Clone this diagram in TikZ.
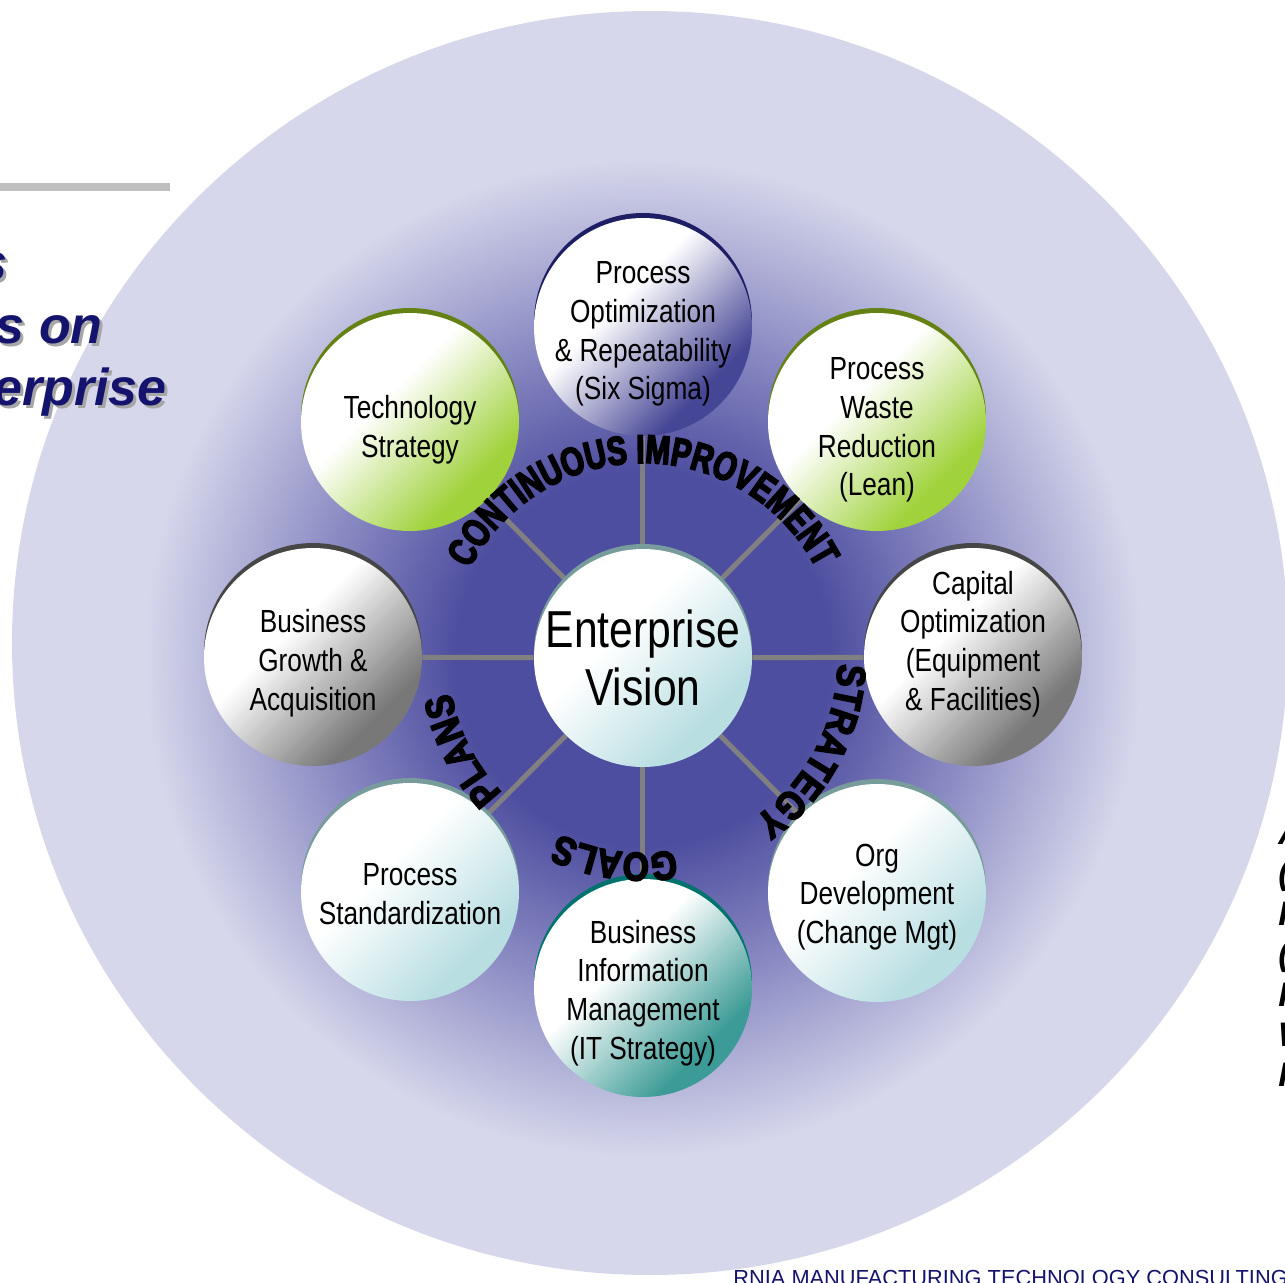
\documentclass[tikz,border=0pt]{standalone}
\usepackage{fontspec}
\setmainfont{Liberation Sans}
\newfontfamily\satfont[FakeStretch=0.82]{Liberation Sans}
\newfontfamily\arcfontA[FakeStretch=0.74, BoldFeatures={FakeBold=4}]{Liberation Sans}
\newfontfamily\arcfontB[FakeStretch=0.84, BoldFeatures={FakeBold=4}]{Liberation Sans}
\usetikzlibrary{decorations.text}
\pgfdeclarelayer{back}
\pgfdeclarelayer{lines}
\pgfsetlayers{back,lines,main}

\definecolor{lav}{RGB}{214,215,235}
\definecolor{bgdark}{RGB}{78,78,160}
\definecolor{bgmid}{RGB}{140,140,196}
\definecolor{poC}{RGB}{70,70,150}
\definecolor{poRim}{RGB}{30,30,100}
\definecolor{grC}{RGB}{160,210,60}
\definecolor{grRim}{RGB}{100,130,20}
\definecolor{gyC}{RGB}{120,120,120}
\definecolor{gyRim}{RGB}{70,70,70}
\definecolor{cyC}{RGB}{185,222,226}
\definecolor{cyRim}{RGB}{120,155,155}
\definecolor{tlC}{RGB}{60,155,150}
\definecolor{tlRim}{RGB}{0,115,110}
\definecolor{navyT}{RGB}{20,20,110}
\definecolor{lineG}{RGB}{128,128,128}

\pgfdeclareradialshading{bgshade}{\pgfpoint{0bp}{0bp}}{color(0bp)=(bgdark); color(9bp)=(bgdark); color(16bp)=(bgmid); color(24bp)=(lav); color(50bp)=(lav)}
\pgfdeclarehorizontalshading{shPO}{100bp}{color(0bp)=(white); color(42bp)=(white); color(70bp)=(poC); color(100bp)=(poC)}
\pgfdeclarehorizontalshading{shGR}{100bp}{color(0bp)=(white); color(42bp)=(white); color(70bp)=(grC); color(100bp)=(grC)}
\pgfdeclarehorizontalshading{shGY}{100bp}{color(0bp)=(white); color(42bp)=(white); color(70bp)=(gyC); color(100bp)=(gyC)}
\pgfdeclarehorizontalshading{shCY}{100bp}{color(0bp)=(white); color(42bp)=(white); color(70bp)=(cyC); color(100bp)=(cyC)}
\pgfdeclarehorizontalshading{shTL}{100bp}{color(0bp)=(white); color(42bp)=(white); color(70bp)=(tlC); color(100bp)=(tlC)}

\newcommand\arclabelA{\arcfontA\bfseries\fontsize{20}{20}\selectfont}
\newcommand\arclabelB{\arcfontB\bfseries\fontsize{20}{20}\selectfont}

\tikzset{
  sat/.style={circle, minimum size=109pt, inner sep=0pt, shade, shading angle=-45},
  sattext/.style={align=center, inner sep=0pt, text=black, font=\satfont\fontsize{16}{19.4}\selectfont},
  rim/.style={preaction={fill=#1, transform canvas={yshift=2.5pt}}},
  conn/.style={draw=lineG, line width=2.5pt},
  titletext/.style={font=\bfseries\itshape\fontsize{26}{30}\selectfont, text=navyT, anchor=base east, inner sep=0pt},
  titleshadow/.style={font=\bfseries\itshape\fontsize{26}{30}\selectfont, text=black!35, anchor=base east, inner sep=0pt},
  sidetext/.style={font=\bfseries\itshape\fontsize{17}{20}\selectfont, text=black, anchor=base west, inner sep=0pt},
  arclblA/.style={decorate, decoration={text along path, text align=center, text={|\arclabelA|#1}}},
  arclblB/.style={decorate, decoration={text along path, text align=center, text={|\arclabelB|#1}}}
}

\begin{document}
\begin{tikzpicture}[x=0.5pt, y=0.5pt]
\useasboundingbox (-643,-624) rectangle (642,658);

\begin{pgfonlayer}{back}
  \node[anchor=base west, inner sep=0pt, text=navyT, font=\fontsize{10.9}{12}\selectfont] (footer) at (90,-627) {RNIA MANUFACTURING TECHNOLOGY CONSULTING};
  \fill[lav] (7,15) ellipse [x radius=638, y radius=632];
  \begin{scope}
    \clip (7,15) ellipse [x radius=638, y radius=632];
    \shade[shading=bgshade] (0,0) circle[radius=520];
  \end{scope}
\end{pgfonlayer}

% top-left bar and title fragments
\fill[black!25] (-643,467) rectangle (-473,475);
\node[titleshadow] at (-632,375) {s};
\node[titletext] (t1) at (-635,378) {s};
\node[titleshadow] at (-537,312) {s on};
\node[titletext] (t2) at (-540,315) {s on};
\node[titleshadow] at (-473,250) {erprise};
\node[titletext] (t3) at (-476,253) {erprise};

% right-edge fragments
\node[sidetext] (r1) at (635,-186) {A};
\node[sidetext] (r2) at (635,-226) {(};
\node[sidetext] (r3) at (635,-267) {I};
\node[sidetext] (r4) at (635,-307) {(};
\node[sidetext] (r5) at (635,-348) {I};
\node[sidetext] (r6) at (635,-388) {W};
\node[sidetext] (r7) at (635,-428) {I};

% satellites
\node[sat, shading=shPO, rim=poRim] (po) at (0,331) {};
\node[sattext] (po-t) at ([yshift=-3.5pt]po.center) {Process\\Optimization\\\& Repeatability\\(Six Sigma)};
\node[sat, shading=shGR, rim=grRim] (pw) at (234,236) {};
\node[sattext] (pw-t) at ([yshift=-4pt]pw.center) {Process\\Waste\\Reduction\\(Lean)};
\node[sat, shading=shGY, rim=gyRim] (cap) at (330,1) {};
\node[sattext] (cap-t) at ([yshift=6.5pt]cap.center) {Capital\\Optimization\\(Equipment\\\& Facilities)};
\node[sat, shading=shCY, rim=cyRim] (org) at (234,-235) {};
\node[sattext] (org-t) at ([yshift=-2pt]org.center) {Org\\Development\\(Change Mgt)};
\node[sat, shading=shTL, rim=tlRim] (bim) at (0,-330) {};
\node[sattext] (bim-t) at ([yshift=-2.5pt]bim.center) {Business\\Information\\Management\\(IT Strategy)};
\node[sat, shading=shCY, rim=cyRim] (std) at (-233,-234) {};
\node[sattext] (std-t) at ([yshift=-1pt]std.center) {Process\\Standardization};
\node[sat, shading=shGY, rim=gyRim] (bga) at (-330,1) {};
\node[sattext] (bga-t) at ([yshift=-3pt]bga.center) {Business\\Growth \&\\Acquisition};
\node[sat, shading=shGR, rim=grRim] (tech) at (-233,236) {};
\node[sattext] (tech-t) at ([yshift=-4pt]tech.center) {Technology\\Strategy};
\node[sat, shading=shCY, rim=cyRim, align=center, font=\satfont\fontsize{26}{29}\selectfont] (vision) at (0,0) {Enterprise\\Vision};

\begin{pgfonlayer}{lines}
  \foreach \n in {po,pw,cap,org,bim,std,bga,tech}
    \draw[conn] (vision) -- (\n);
\end{pgfonlayer}

% arc labels
\path[arclblA={CONTINUOUS IMPROVEMENT}] (170:195) arc[start angle=170, end angle=10, radius=195];
\path[arclblB={STRATEGY}] (12:195) arc[start angle=12, end angle=-69, radius=195];
\path[arclblB={GOALS}] (-70:195) arc[start angle=-70, end angle=-126, radius=195];
\path[arclblB={PLANS}] (-125:195) arc[start angle=-125, end angle=-181, radius=195];
\end{tikzpicture}
\end{document}
